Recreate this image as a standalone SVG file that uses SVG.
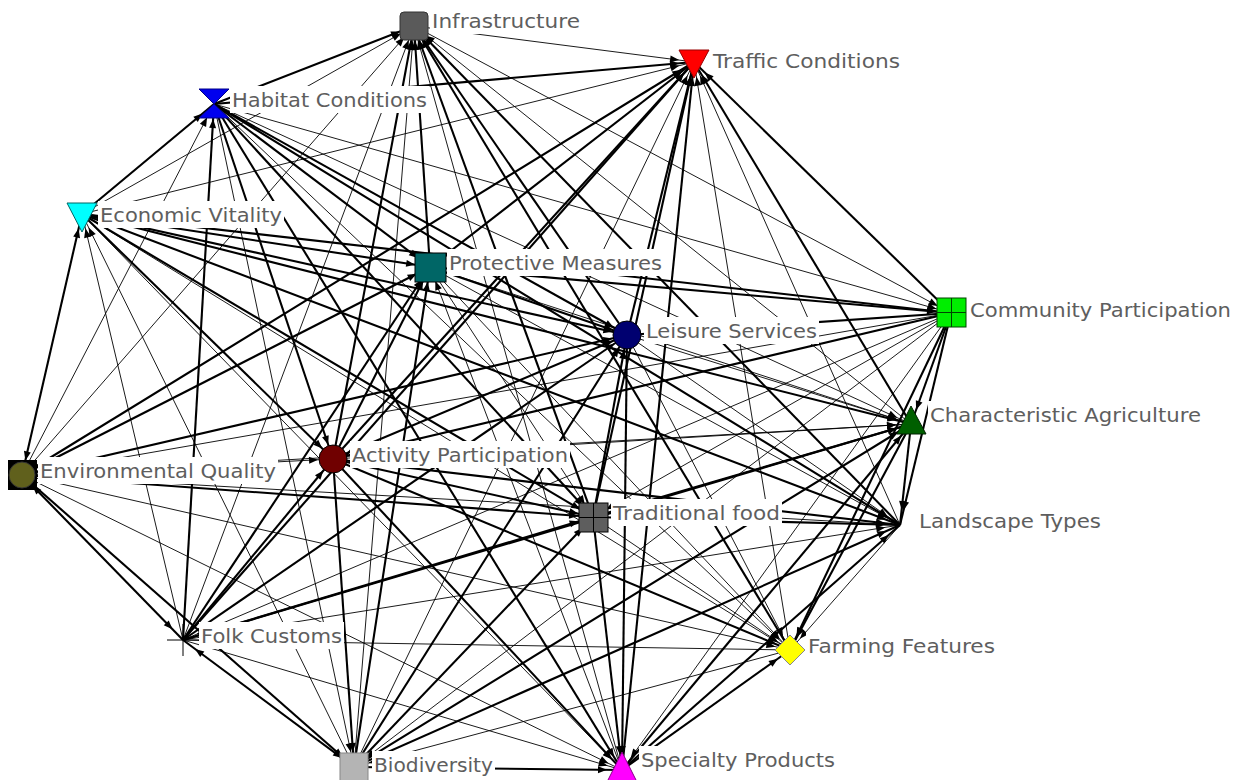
<svg xmlns="http://www.w3.org/2000/svg" width="1243" height="780" viewBox="0 0 1243 780">
<defs>
<marker id="ah" viewBox="0 0 26 8" markerWidth="26" markerHeight="8" refX="26" refY="4" orient="auto-start-reverse" markerUnits="userSpaceOnUse"><path d="M2,0.5 L11,4 L2,7.5 z" fill="#000"/></marker>
</defs>
<style>
line.t,line.T{stroke:#000;marker-end:url(#ah);fill:none}
line.t{stroke-width:0.9}
line.T{stroke-width:2.1}
line.b{marker-start:url(#ah)}
rect.lb{fill:#fff}
text{font-family:"DejaVu Sans","Liberation Sans",sans-serif;font-size:20px;fill:#5e5e5e}
</style>
<rect width="1243" height="780" fill="#fff"/>
<g id="connectors">
<line class="t" x1="414" y1="26" x2="694" y2="62"/>
<line class="T" x1="214" y1="104" x2="414" y2="26"/>
<line class="t" x1="82" y1="214" x2="414" y2="26"/>
<line class="T" x1="430" y1="267" x2="414" y2="26"/>
<line class="t" x1="414" y1="26" x2="951" y2="313"/>
<line class="T" x1="627" y1="335" x2="414" y2="26"/>
<line class="t" x1="911" y1="424" x2="414" y2="26"/>
<line class="t" x1="22" y1="475" x2="414" y2="26"/>
<line class="T" x1="333" y1="459" x2="414" y2="26"/>
<line class="T" x1="593" y1="517" x2="414" y2="26"/>
<line class="T" x1="900" y1="525" x2="414" y2="26"/>
<line class="t" x1="183" y1="640" x2="414" y2="26"/>
<line class="T" x1="790" y1="650" x2="414" y2="26"/>
<line class="t" x1="354" y1="767" x2="414" y2="26"/>
<line class="t" x1="622" y1="770" x2="414" y2="26"/>
<line class="T" x1="214" y1="104" x2="694" y2="62"/>
<line class="t" x1="82" y1="214" x2="694" y2="62"/>
<line class="T" x1="430" y1="267" x2="694" y2="62"/>
<line class="T" x1="951" y1="313" x2="694" y2="62"/>
<line class="T" x1="627" y1="335" x2="694" y2="62"/>
<line class="T" x1="911" y1="424" x2="694" y2="62"/>
<line class="T" x1="22" y1="475" x2="694" y2="62"/>
<line class="T" x1="333" y1="459" x2="694" y2="62"/>
<line class="T" x1="593" y1="517" x2="694" y2="62"/>
<line class="t" x1="900" y1="525" x2="694" y2="62"/>
<line class="T" x1="183" y1="640" x2="694" y2="62"/>
<line class="t" x1="790" y1="650" x2="694" y2="62"/>
<line class="t" x1="354" y1="767" x2="694" y2="62"/>
<line class="T" x1="622" y1="770" x2="694" y2="62"/>
<line class="T" x1="82" y1="214" x2="214" y2="104"/>
<line class="T" x1="214" y1="104" x2="430" y2="267"/>
<line class="t" x1="214" y1="104" x2="951" y2="313"/>
<line class="T" x1="214" y1="104" x2="627" y2="335"/>
<line class="t" x1="214" y1="104" x2="911" y2="424"/>
<line class="t" x1="22" y1="475" x2="214" y2="104"/>
<line class="T" x1="214" y1="104" x2="333" y2="459"/>
<line class="T" x1="214" y1="104" x2="593" y2="517"/>
<line class="T" x1="214" y1="104" x2="900" y2="525"/>
<line class="T" x1="183" y1="640" x2="214" y2="104"/>
<line class="t" x1="214" y1="104" x2="790" y2="650"/>
<line class="t" x1="214" y1="104" x2="354" y2="767"/>
<line class="T" x1="214" y1="104" x2="622" y2="770"/>
<line class="T" x1="82" y1="214" x2="430" y2="267"/>
<line class="T" x1="82" y1="214" x2="951" y2="313"/>
<line class="T" x1="82" y1="214" x2="627" y2="335"/>
<line class="T" x1="82" y1="214" x2="911" y2="424"/>
<line class="T b" x1="22" y1="475" x2="82" y2="214"/>
<line class="T" x1="82" y1="214" x2="333" y2="459"/>
<line class="T" x1="82" y1="214" x2="593" y2="517"/>
<line class="T" x1="82" y1="214" x2="900" y2="525"/>
<line class="t" x1="183" y1="640" x2="82" y2="214"/>
<line class="t" x1="82" y1="214" x2="790" y2="650"/>
<line class="t" x1="354" y1="767" x2="82" y2="214"/>
<line class="t" x1="82" y1="214" x2="622" y2="770"/>
<line class="T" x1="430" y1="267" x2="951" y2="313"/>
<line class="T" x1="430" y1="267" x2="627" y2="335"/>
<line class="t" x1="430" y1="267" x2="911" y2="424"/>
<line class="T" x1="22" y1="475" x2="430" y2="267"/>
<line class="T" x1="333" y1="459" x2="430" y2="267"/>
<line class="t" x1="430" y1="267" x2="593" y2="517"/>
<line class="t" x1="430" y1="267" x2="900" y2="525"/>
<line class="T" x1="183" y1="640" x2="430" y2="267"/>
<line class="t" x1="430" y1="267" x2="790" y2="650"/>
<line class="T" x1="354" y1="767" x2="430" y2="267"/>
<line class="t" x1="622" y1="770" x2="430" y2="267"/>
<line class="T" x1="951" y1="313" x2="627" y2="335"/>
<line class="T" x1="951" y1="313" x2="911" y2="424"/>
<line class="t" x1="951" y1="313" x2="22" y2="475"/>
<line class="T" x1="951" y1="313" x2="333" y2="459"/>
<line class="t" x1="951" y1="313" x2="593" y2="517"/>
<line class="T" x1="951" y1="313" x2="900" y2="525"/>
<line class="t" x1="951" y1="313" x2="183" y2="640"/>
<line class="T" x1="951" y1="313" x2="790" y2="650"/>
<line class="t" x1="951" y1="313" x2="354" y2="767"/>
<line class="t" x1="951" y1="313" x2="622" y2="770"/>
<line class="t" x1="627" y1="335" x2="911" y2="424"/>
<line class="T" x1="22" y1="475" x2="627" y2="335"/>
<line class="T" x1="333" y1="459" x2="627" y2="335"/>
<line class="T" x1="593" y1="517" x2="627" y2="335"/>
<line class="t" x1="627" y1="335" x2="900" y2="525"/>
<line class="T" x1="183" y1="640" x2="627" y2="335"/>
<line class="t" x1="627" y1="335" x2="790" y2="650"/>
<line class="T" x1="354" y1="767" x2="627" y2="335"/>
<line class="T" x1="627" y1="335" x2="622" y2="770"/>
<line class="t" x1="22" y1="475" x2="911" y2="424"/>
<line class="t" x1="333" y1="459" x2="911" y2="424"/>
<line class="T" x1="593" y1="517" x2="911" y2="424"/>
<line class="T" x1="911" y1="424" x2="900" y2="525"/>
<line class="T" x1="183" y1="640" x2="911" y2="424"/>
<line class="T" x1="911" y1="424" x2="790" y2="650"/>
<line class="T" x1="354" y1="767" x2="911" y2="424"/>
<line class="T" x1="622" y1="770" x2="911" y2="424"/>
<line class="t" x1="22" y1="475" x2="333" y2="459"/>
<line class="T" x1="22" y1="475" x2="593" y2="517"/>
<line class="t" x1="22" y1="475" x2="900" y2="525"/>
<line class="T b" x1="22" y1="475" x2="183" y2="640"/>
<line class="t" x1="22" y1="475" x2="790" y2="650"/>
<line class="T" x1="22" y1="475" x2="354" y2="767"/>
<line class="t" x1="22" y1="475" x2="622" y2="770"/>
<line class="T" x1="333" y1="459" x2="593" y2="517"/>
<line class="T" x1="333" y1="459" x2="900" y2="525"/>
<line class="T" x1="183" y1="640" x2="333" y2="459"/>
<line class="T" x1="333" y1="459" x2="790" y2="650"/>
<line class="T" x1="333" y1="459" x2="354" y2="767"/>
<line class="T" x1="333" y1="459" x2="622" y2="770"/>
<line class="T" x1="593" y1="517" x2="900" y2="525"/>
<line class="T" x1="183" y1="640" x2="593" y2="517"/>
<line class="t" x1="593" y1="517" x2="790" y2="650"/>
<line class="T" x1="354" y1="767" x2="593" y2="517"/>
<line class="T" x1="593" y1="517" x2="622" y2="770"/>
<line class="t" x1="183" y1="640" x2="900" y2="525"/>
<line class="t" x1="900" y1="525" x2="790" y2="650"/>
<line class="T" x1="354" y1="767" x2="900" y2="525"/>
<line class="T" x1="622" y1="770" x2="900" y2="525"/>
<line class="t" x1="790" y1="650" x2="183" y2="640"/>
<line class="T b" x1="183" y1="640" x2="354" y2="767"/>
<line class="t" x1="183" y1="640" x2="622" y2="770"/>
<line class="t" x1="790" y1="650" x2="354" y2="767"/>
<line class="T" x1="622" y1="770" x2="790" y2="650"/>
<line class="T" x1="354" y1="767" x2="622" y2="770"/>
</g>
<g id="node-infrastructure">
<rect x="400" y="12" width="28" height="28" rx="4" fill="#5a5a5a" stroke="#333"/>
<rect class="lb" x="430" y="7" width="152" height="27"/>
<text x="432" y="28" textLength="148" lengthAdjust="spacingAndGlyphs">Infrastructure</text>
</g>
<g id="node-traffic-conditions">
<polygon points="679,50 709,50 694,78" fill="#ff0000" stroke="#900"/>
<rect class="lb" x="711" y="47" width="191" height="27"/>
<text x="713" y="68" textLength="187" lengthAdjust="spacingAndGlyphs">Traffic Conditions</text>
</g>
<g id="node-habitat-conditions">
<polygon points="199,89 229,89 214,104 229,118 199,118 214,104" fill="#0000ee" stroke="#000088"/>
<rect class="lb" x="230" y="86" width="199" height="27"/>
<text x="232" y="107" textLength="195" lengthAdjust="spacingAndGlyphs">Habitat Conditions</text>
</g>
<g id="node-economic-vitality">
<polygon points="67,203 97,203 82,232" fill="#00ffff" stroke="#066"/>
<rect class="lb" x="98" y="201" width="186" height="27"/>
<text x="100" y="222" textLength="182" lengthAdjust="spacingAndGlyphs">Economic Vitality</text>
</g>
<g id="node-protective-measures">
<rect x="415" y="253" width="31" height="29" fill="#006666" stroke="#000"/>
<rect class="lb" x="447" y="249" width="217" height="27"/>
<text x="449" y="270" textLength="213" lengthAdjust="spacingAndGlyphs">Protective Measures</text>
</g>
<g id="node-community-participation">
<rect x="937" y="298" width="29" height="29" fill="#00ee00" stroke="#040"/>
<path d="M951.5,298 V327 M937,312.5 H966" stroke="#040" stroke-width="1"/>
<rect class="lb" x="968" y="296" width="265" height="27"/>
<text x="970" y="317" textLength="261" lengthAdjust="spacingAndGlyphs">Community Participation</text>
</g>
<g id="node-leisure-services">
<circle cx="627" cy="335" r="14" fill="#000070" stroke="#000"/>
<rect class="lb" x="644" y="317" width="175" height="27"/>
<text x="646" y="338" textLength="171" lengthAdjust="spacingAndGlyphs">Leisure Services</text>
</g>
<g id="node-characteristic-agriculture">
<polygon points="897,434 926,434 911,406" fill="#005f00" stroke="#002000"/>
<rect class="lb" x="928" y="401" width="275" height="27"/>
<text x="930" y="422" textLength="271" lengthAdjust="spacingAndGlyphs">Characteristic Agriculture</text>
</g>
<g id="node-environmental-quality">
<rect x="8" y="460" width="29" height="30" fill="#000"/>
<circle cx="22" cy="475" r="13" fill="#60601c" stroke="#333"/>
<rect class="lb" x="38" y="457" width="240" height="27"/>
<text x="40" y="478" textLength="236" lengthAdjust="spacingAndGlyphs">Environmental Quality</text>
</g>
<g id="node-activity-participation">
<circle cx="333" cy="459" r="14" fill="#700000" stroke="#000"/>
<rect class="lb" x="350" y="441" width="220" height="27"/>
<text x="352" y="462" textLength="216" lengthAdjust="spacingAndGlyphs">Activity Participation</text>
</g>
<g id="node-traditional-food">
<rect x="579" y="503" width="29" height="29" fill="#5e5e5e" stroke="#000"/>
<path d="M593.5,503 V532 M579,517.5 H608" stroke="#000" stroke-width="1"/>
<rect class="lb" x="611" y="499" width="171" height="27"/>
<text x="613" y="520" textLength="167" lengthAdjust="spacingAndGlyphs">Traditional food</text>
</g>
<g id="node-landscape-types">
<rect class="lb" x="917" y="507" width="186" height="27"/>
<text x="919" y="528" textLength="182" lengthAdjust="spacingAndGlyphs">Landscape Types</text>
</g>
<g id="node-folk-customs">
<path d="M167,640 H199 M183,624 V656" stroke="#000" stroke-width="1"/>
<rect class="lb" x="199" y="622" width="145" height="27"/>
<text x="201" y="643" textLength="141" lengthAdjust="spacingAndGlyphs">Folk Customs</text>
</g>
<g id="node-farming-features">
<polygon points="790,635 805,650 790,665 775,650" fill="#ffff00" stroke="#888"/>
<rect class="lb" x="806" y="632" width="191" height="27"/>
<text x="808" y="653" textLength="187" lengthAdjust="spacingAndGlyphs">Farming Features</text>
</g>
<g id="node-biodiversity">
<rect x="340" y="753" width="28" height="28" fill="#b4b4b4" stroke="#888"/>
<rect class="lb" x="372" y="751" width="123" height="27"/>
<text x="374" y="772" textLength="119" lengthAdjust="spacingAndGlyphs">Biodiversity</text>
</g>
<g id="node-specialty-products">
<polygon points="622,752 637,782 607,782" fill="#ff00ff" stroke="#808"/>
<rect class="lb" x="639" y="746" width="198" height="27"/>
<text x="641" y="767" textLength="194" lengthAdjust="spacingAndGlyphs">Specialty Products</text>
</g>
</svg>
